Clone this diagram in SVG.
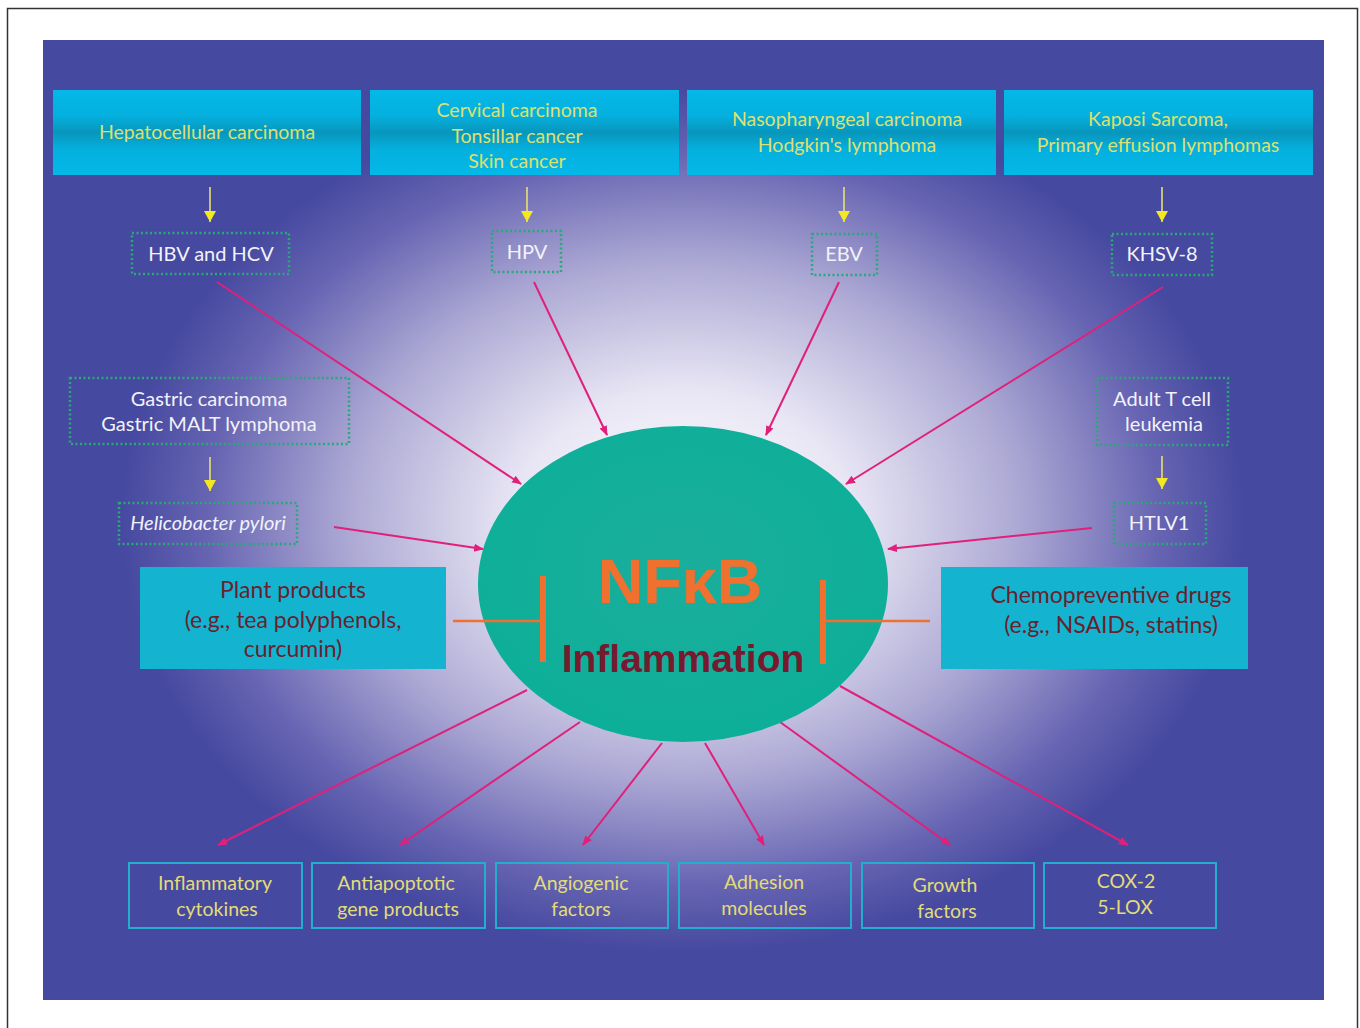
<svg xmlns="http://www.w3.org/2000/svg" width="1360" height="1028" viewBox="0 0 1360 1028">
<defs>
<radialGradient id="bg" gradientUnits="userSpaceOnUse" cx="683" cy="520" r="480" gradientTransform="translate(683 520) scale(1.17 0.9) translate(-683 -520)">
<stop offset="0" stop-color="#ffffff"/>
<stop offset="0.3" stop-color="#e8e6f4"/>
<stop offset="0.6" stop-color="#aca8d4"/>
<stop offset="0.85" stop-color="#6664b2"/>
<stop offset="1" stop-color="#4649a0"/>
</radialGradient>
<linearGradient id="topbox" x1="0" y1="0" x2="0" y2="1">
<stop offset="0" stop-color="#04b8e8"/>
<stop offset="0.3" stop-color="#04b0de"/>
<stop offset="0.5" stop-color="#0896bc"/>
<stop offset="0.7" stop-color="#04b0de"/>
<stop offset="1" stop-color="#04b8e8"/>
</linearGradient>
<radialGradient id="ell" cx="0.5" cy="0.45" r="0.6">
<stop offset="0" stop-color="#1aae9c"/>
<stop offset="1" stop-color="#0caf98"/>
</radialGradient>
<marker id="pk" markerWidth="10" markerHeight="10" refX="9" refY="5" orient="auto" markerUnits="userSpaceOnUse">
<path d="M0,1 L10,5 L0,9 Z" fill="#e0207a"/>
</marker>
<marker id="yl" markerWidth="12" markerHeight="12" refX="6" refY="11" orient="0" markerUnits="userSpaceOnUse">
<path d="M0,0 L12,0 L6,11 Z" fill="#f4e820"/>
</marker>
</defs>
<style>
.top{fill:url(#topbox)}
.tt{font-family:Lato,"Open Sans","Liberation Sans",sans-serif;font-size:19.5px;fill:#dce070;text-anchor:middle}
.vb{fill:none;stroke:#2aa878;stroke-width:2.5;stroke-dasharray:2 2.5}
.vt{font-family:Lato,"Open Sans","Liberation Sans",sans-serif;font-size:20px;fill:#f2f2fa;text-anchor:middle}
.bb{fill:none;stroke:#22aecc;stroke-width:2}
.bt{font-family:Lato,"Open Sans","Liberation Sans",sans-serif;font-size:19.5px;fill:#e2dc78;text-anchor:middle}
.cy{fill:#14b4d0}
.ct{font-family:Lato,"Open Sans","Liberation Sans",sans-serif;font-size:23px;fill:#6a1f2e;text-anchor:middle}
.pl{stroke:#e0207a;stroke-width:2;fill:none;marker-end:url(#pk)}
.yw{stroke:#e8e070;stroke-width:1.6;fill:none;marker-end:url(#yl)}
.inh{stroke:#f07030;fill:none}
</style>
<rect x="0" y="0" width="1360" height="1028" fill="#ffffff"/>
<path d="M7.5,1028 V8.5 H1357.5 V1028" fill="none" stroke="#333" stroke-width="1.5"/>
<rect x="43" y="40" width="1281" height="960" fill="url(#bg)"/>

<g id="connectors">
<line class="yw" x1="210" y1="187" x2="210" y2="222"/>
<line class="yw" x1="527" y1="187" x2="527" y2="222"/>
<line class="yw" x1="844" y1="187" x2="844" y2="222"/>
<line class="yw" x1="1162" y1="187" x2="1162" y2="222"/>
<line class="yw" x1="210" y1="457" x2="210" y2="491"/>
<line class="yw" x1="1162" y1="456" x2="1162" y2="489"/>
<line class="pl" x1="217" y1="282" x2="521" y2="484"/>
<line class="pl" x1="534" y1="282" x2="607" y2="435"/>
<line class="pl" x1="839" y1="282" x2="766" y2="435"/>
<line class="pl" x1="1163" y1="287" x2="846" y2="484"/>
<line class="pl" x1="334" y1="527" x2="483" y2="549"/>
<line class="pl" x1="1092" y1="528" x2="888" y2="549"/>
<line class="pl" x1="527" y1="690" x2="218" y2="845"/>
<line class="pl" x1="580" y1="722" x2="400" y2="845"/>
<line class="pl" x1="662" y1="743" x2="583" y2="845"/>
<line class="pl" x1="705" y1="743" x2="764" y2="845"/>
<line class="pl" x1="780" y1="722" x2="950" y2="845"/>
<line class="pl" x1="840" y1="686" x2="1128" y2="845"/>
</g>

<g id="n-hepato"><rect class="top" x="53" y="90" width="308" height="85"/><text class="tt" x="207" y="139">Hepatocellular carcinoma</text></g>
<g id="n-cervical"><rect class="top" x="370" y="90" width="309" height="85"/><text class="tt" x="517" y="117">Cervical carcinoma</text><text class="tt" x="517" y="143">Tonsillar cancer</text><text class="tt" x="517" y="168">Skin cancer</text></g>
<g id="n-naso"><rect class="top" x="687" y="90" width="309" height="85"/><text class="tt" x="847" y="126">Nasopharyngeal carcinoma</text><text class="tt" x="847" y="152">Hodgkin's lymphoma</text></g>
<g id="n-kaposi"><rect class="top" x="1004" y="90" width="309" height="85"/><text class="tt" x="1158" y="126">Kaposi Sarcoma,</text><text class="tt" x="1158" y="152">Primary effusion lymphomas</text></g>

<g id="n-hbv"><rect class="vb" x="132" y="233" width="157" height="41"/><text class="vt" x="211" y="261">HBV and HCV</text></g>
<g id="n-hpv"><rect class="vb" x="492" y="231" width="69" height="41"/><text class="vt" x="527" y="259">HPV</text></g>
<g id="n-ebv"><rect class="vb" x="812" y="234" width="65" height="41"/><text class="vt" x="844" y="261">EBV</text></g>
<g id="n-khsv"><rect class="vb" x="1112" y="234" width="100" height="41"/><text class="vt" x="1162" y="261">KHSV-8</text></g>

<g id="n-gastric"><rect class="vb" x="70" y="378" width="279" height="66"/><text class="vt" x="209" y="406">Gastric carcinoma</text><text class="vt" x="209" y="431">Gastric MALT lymphoma</text></g>
<g id="n-hpylori"><rect class="vb" x="119" y="503" width="178" height="41"/><text class="vt" x="208" y="530" font-style="italic">Helicobacter pylori</text></g>
<g id="n-atl"><rect class="vb" x="1097" y="378" width="131" height="67"/><text class="vt" x="1162" y="406">Adult T cell</text><text class="vt" x="1164" y="431">leukemia</text></g>
<g id="n-htlv"><rect class="vb" x="1114" y="503" width="92" height="41"/><text class="vt" x="1159" y="530">HTLV1</text></g>

<g id="n-plant"><rect class="cy" x="140" y="567" width="306" height="102"/><text class="ct" x="293" y="598">Plant products</text><text class="ct" x="293" y="628">(e.g., tea polyphenols,</text><text class="ct" x="293" y="657">curcumin)</text></g>
<g id="n-chemo"><rect class="cy" x="941" y="567" width="307" height="102"/><text class="ct" x="1111" y="603">Chemopreventive drugs</text><text class="ct" x="1111" y="633">(e.g., NSAIDs, statins)</text></g>

<g id="n-nfkb">
<ellipse cx="683" cy="584" rx="205" ry="158" fill="url(#ell)"/>
<text x="680" y="603" font-family="'Liberation Sans',Arial,sans-serif" font-weight="bold" font-size="63" fill="#f07030" text-anchor="middle">NFκB</text>
<text x="683" y="672" font-family="'Liberation Sans',Arial,sans-serif" font-weight="bold" font-size="39" fill="#761a30" text-anchor="middle">Inflammation</text>
</g>

<g id="inhibitors">
<line class="inh" x1="453" y1="621" x2="541" y2="621" stroke-width="2.5"/>
<line class="inh" x1="543" y1="576" x2="543" y2="662" stroke-width="6"/>
<line class="inh" x1="826" y1="621" x2="930" y2="621" stroke-width="2.5"/>
<line class="inh" x1="823" y1="580" x2="823" y2="664" stroke-width="6"/>
</g>

<g id="n-cyto"><rect class="bb" x="129" y="863" width="173" height="65"/><text class="bt" x="215" y="890">Inflammatory</text><text class="bt" x="217" y="916">cytokines</text></g>
<g id="n-anti"><rect class="bb" x="312" y="863" width="173" height="65"/><text class="bt" x="396" y="890">Antiapoptotic</text><text class="bt" x="398" y="916">gene products</text></g>
<g id="n-angio"><rect class="bb" x="496" y="863" width="172" height="65"/><text class="bt" x="581" y="890">Angiogenic</text><text class="bt" x="581" y="916">factors</text></g>
<g id="n-adh"><rect class="bb" x="679" y="863" width="172" height="65"/><text class="bt" x="764" y="889">Adhesion</text><text class="bt" x="764" y="915">molecules</text></g>
<g id="n-growth"><rect class="bb" x="862" y="863" width="172" height="65"/><text class="bt" x="945" y="892">Growth</text><text class="bt" x="947" y="918">factors</text></g>
<g id="n-cox"><rect class="bb" x="1044" y="863" width="172" height="65"/><text class="bt" x="1126" y="888">COX-2</text><text class="bt" x="1125" y="914">5-LOX</text></g>
</svg>
